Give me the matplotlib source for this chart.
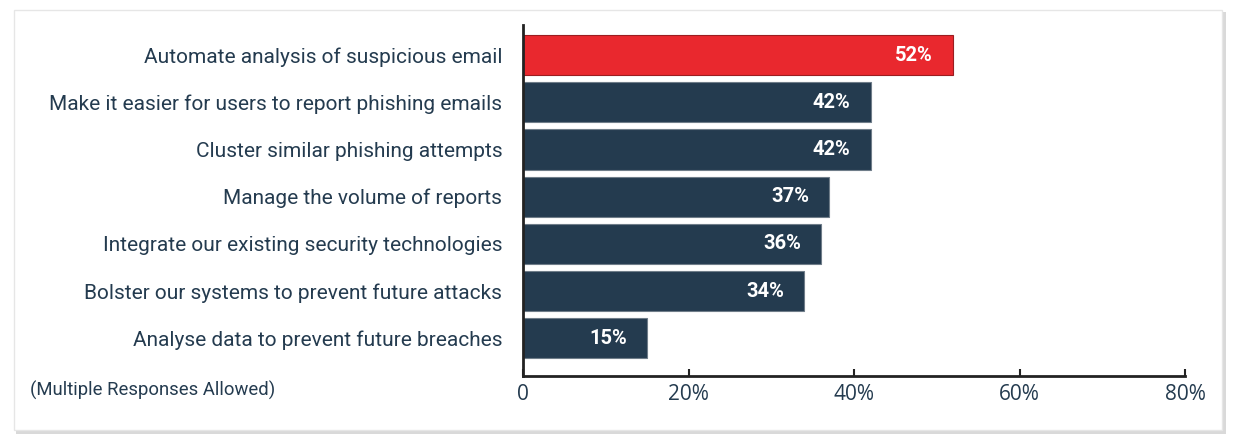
import matplotlib.pyplot as plt
from matplotlib.patches import Rectangle
from matplotlib.ticker import FuncFormatter

categories = [
    "Automate analysis of suspicious email",
    "Make it easier for users to report phishing emails",
    "Cluster similar phishing attempts",
    "Manage the volume of reports",
    "Integrate our existing security technologies",
    "Bolster our systems to prevent future attacks",
    "Analyse data to prevent future breaches",
]
values = [52, 42, 42, 37, 36, 34, 15]
highlight = [True, False, False, False, False, False, False]
x_ticks = [0, 20, 40, 60, 80]

NAVY = "#243b4f"
RED = "#e9282e"
TEXT = "#243b4f"

W, H = 1237, 438
fig = plt.figure(figsize=(W / 100, H / 100), dpi=100)

# card background with a soft border/shadow
fig.patches.append(Rectangle((16 / W, 1 - 434 / H), 1210 / W, 422 / H,
                             transform=fig.transFigure, facecolor="#d9d9d9",
                             edgecolor="none", zorder=-2))
fig.patches.append(Rectangle((14 / W, 1 - 430 / H), 1208 / W, 420 / H,
                             transform=fig.transFigure, facecolor="white",
                             edgecolor="#e6e6e6", linewidth=1, zorder=-1))

ax = fig.add_axes([523 / W, 1 - 376 / H, (1185 - 523) / W, (376 - 25) / H])
ax.set_zorder(2)
ax.patch.set_alpha(0)

colors = [RED if h else NAVY for h in highlight]
edges = ["#9b1d20" if h else "#6f7d89" for h in highlight]
pos = list(range(len(categories)))
bars = ax.barh(pos, values, height=0.85, color=colors, edgecolor=edges,
               linewidth=0.8, zorder=2)

for b, v in zip(bars, values):
    ax.annotate(f"{v}%", (v, b.get_y() + b.get_height() / 2),
                xytext=(-14.5, 0), textcoords="offset points",
                ha="right", va="center", color="white", fontsize=14.5,
                fontweight="bold", family="Roboto", zorder=3)

ax.set_xlim(0, 80)
ax.set_ylim(6.8, -0.64)
ax.set_yticks(pos)
ax.set_yticklabels(categories, family="Roboto", fontsize=15, color=TEXT)
ax.tick_params(axis="y", length=0, pad=15)

ax.set_xticks(x_ticks)
ax.xaxis.set_major_formatter(FuncFormatter(lambda x, _: "0" if x == 0 else f"{x:.0f}%"))
ax.tick_params(axis="x", direction="in", length=5, width=1.5, color="#222222",
               labelsize=15, labelcolor=TEXT, pad=6)
for lbl in ax.get_xticklabels():
    lbl.set_family("Open Sans")

for side in ["top", "right"]:
    ax.spines[side].set_visible(False)
ax.spines["left"].set_linewidth(2)
ax.spines["bottom"].set_linewidth(2)
ax.spines["left"].set_color("#222222")
ax.spines["bottom"].set_color("#222222")

fig.text(30 / W, 1 - 390 / H, "(Multiple Responses Allowed)", family="Roboto",
         fontsize=13.3, color=TEXT, va="center", ha="left")

fig.savefig("out.png", dpi=100, facecolor="white")
